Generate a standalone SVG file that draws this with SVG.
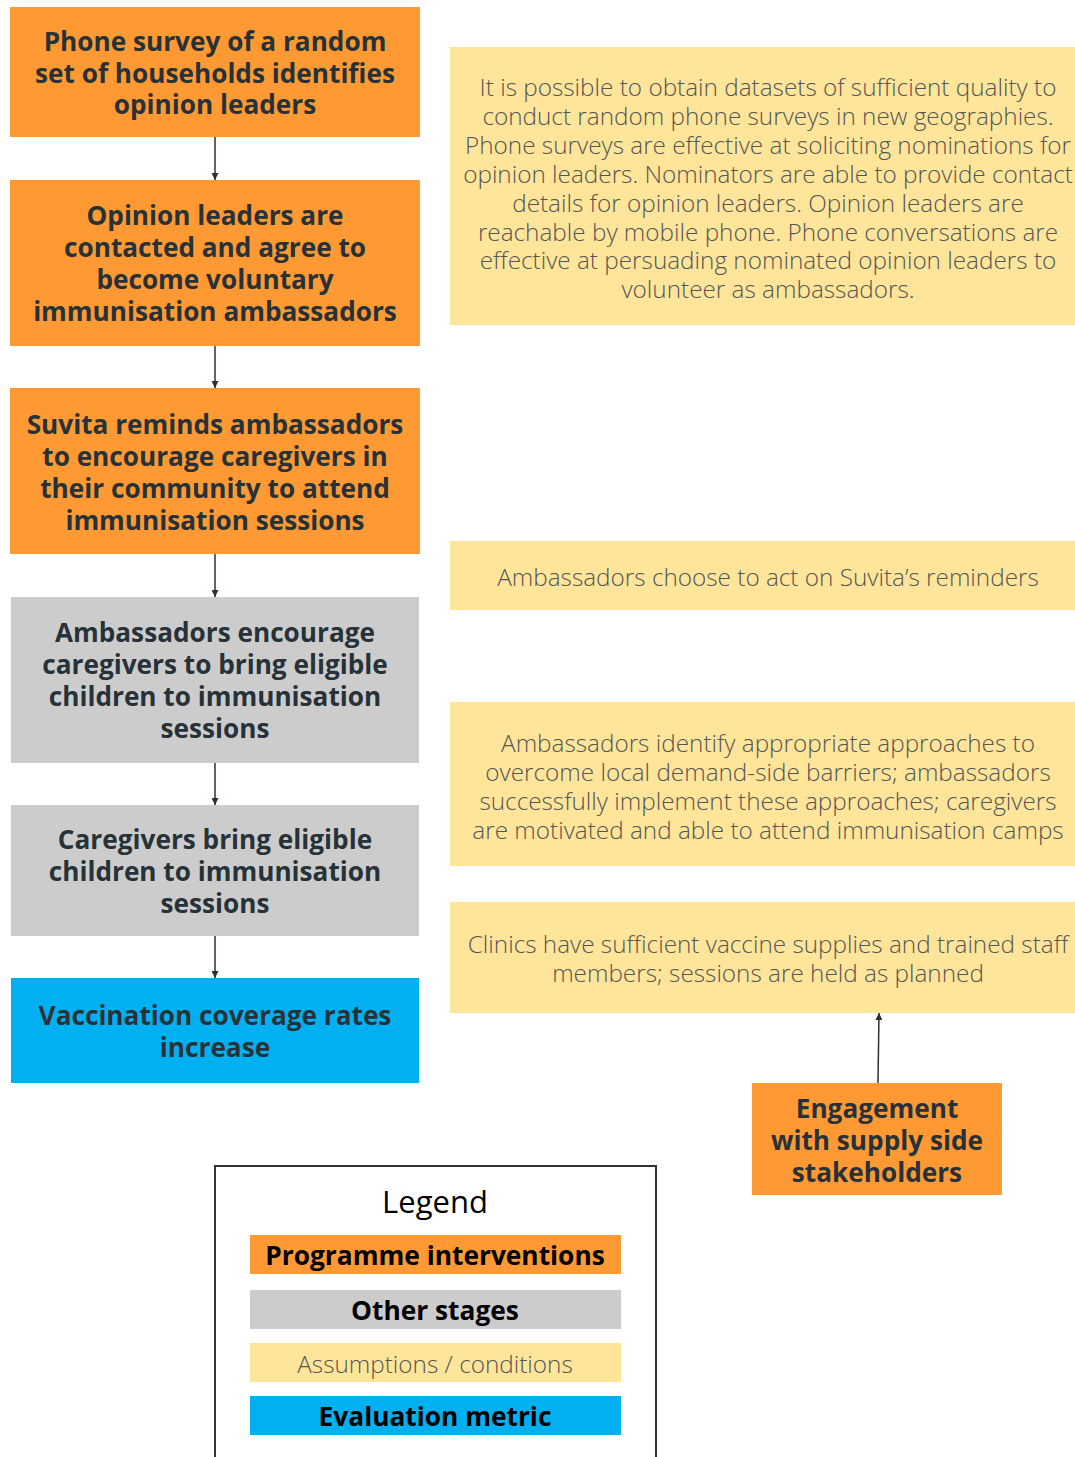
<svg xmlns="http://www.w3.org/2000/svg" width="1075" height="1457" viewBox="0 0 1075 1457">
<style>
.org{fill:#FF9933}
.gry{fill:#CCCCCC}
.blu{fill:#00B0F0}
.ylw{fill:#FFE599}
.nt{font-family:"Open Sans","Noto Sans",sans-serif;font-weight:700;font-size:26.2px;fill:#263238;text-anchor:middle;dominant-baseline:central}
.at{font-family:"Open Sans","Noto Sans",sans-serif;font-weight:300;font-size:24.3px;fill:#555;text-anchor:middle;dominant-baseline:central}
.lt{font-family:"Open Sans","Noto Sans",sans-serif;font-weight:700;font-size:26.3px;fill:#000;text-anchor:middle;dominant-baseline:central}
.edge{stroke:#263238;stroke-width:1.5;fill:none;marker-end:url(#ah)}
</style>
<defs>
<marker id="ah" viewBox="0 0 10 10" refX="10" refY="5" markerWidth="7" markerHeight="7" markerUnits="userSpaceOnUse" orient="auto"><path d="M0,0 L10,5 L0,10 z" fill="#263238"/></marker>
</defs>
<rect width="1075" height="1457" fill="#fff"/>
<g id="n1"><rect class="org" x="10" y="7" width="410" height="130"/>
<text class="nt" x="215" y="41">Phone survey of a random</text><text class="nt" x="215" y="73">set of households identifies</text><text class="nt" x="215" y="104">opinion leaders</text></g>
<g id="n2"><rect class="org" x="10" y="180" width="410" height="166"/>
<text class="nt" x="215" y="215">Opinion leaders are</text><text class="nt" x="215" y="247">contacted and agree to</text><text class="nt" x="215" y="279">become voluntary</text><text class="nt" x="215" y="311">immunisation ambassadors</text></g>
<g id="n3"><rect class="org" x="10" y="388" width="410" height="166"/>
<text class="nt" x="215" y="424">Suvita reminds ambassadors</text><text class="nt" x="215" y="456">to encourage caregivers in</text><text class="nt" x="215" y="488">their community to attend</text><text class="nt" x="215" y="520">immunisation sessions</text></g>
<g id="n4"><rect class="gry" x="11" y="597" width="408" height="166"/>
<text class="nt" x="215" y="632">Ambassadors encourage</text><text class="nt" x="215" y="664">caregivers to bring eligible</text><text class="nt" x="215" y="696">children to immunisation</text><text class="nt" x="215" y="728">sessions</text></g>
<g id="n5"><rect class="gry" x="11" y="805" width="408" height="131"/>
<text class="nt" x="215" y="839">Caregivers bring eligible</text><text class="nt" x="215" y="871">children to immunisation</text><text class="nt" x="215" y="903">sessions</text></g>
<g id="n6"><rect class="blu" x="11" y="978" width="408" height="105"/>
<text class="nt" x="215" y="1015">Vaccination coverage rates</text><text class="nt" x="215" y="1047">increase</text></g>
<g id="a1"><rect class="ylw" x="450" y="47" width="625" height="278"/>
<text class="at" x="768" y="86">It is possible to obtain datasets of sufficient quality to</text>
<text class="at" x="768" y="115">conduct random phone surveys in new geographies.</text>
<text class="at" x="768" y="144">Phone surveys are effective at soliciting nominations for</text>
<text class="at" x="768" y="173">opinion leaders. Nominators are able to provide contact</text>
<text class="at" x="768" y="202">details for opinion leaders. Opinion leaders are</text>
<text class="at" x="768" y="231">reachable by mobile phone. Phone conversations are</text>
<text class="at" x="768" y="259">effective at persuading nominated opinion leaders to</text>
<text class="at" x="768" y="288">volunteer as ambassadors.</text></g>
<g id="a2"><rect class="ylw" x="450" y="541" width="625" height="69"/>
<text class="at" x="768" y="576">Ambassadors choose to act on Suvita’s reminders</text></g>
<g id="a3"><rect class="ylw" x="450" y="702" width="625" height="164"/>
<text class="at" x="768" y="742">Ambassadors identify appropriate approaches to</text>
<text class="at" x="768" y="771">overcome local demand-side barriers; ambassadors</text>
<text class="at" x="768" y="800">successfully implement these approaches; caregivers</text>
<text class="at" x="768" y="829">are motivated and able to attend immunisation camps</text></g>
<g id="a4"><rect class="ylw" x="450" y="902" width="625" height="111"/>
<text class="at" x="768" y="943">Clinics have sufficient vaccine supplies and trained staff</text>
<text class="at" x="768" y="972">members; sessions are held as planned</text></g>
<g id="n7"><rect class="org" x="752" y="1083" width="250" height="112"/>
<text class="nt" x="877" y="1108">Engagement</text><text class="nt" x="877" y="1140">with supply side</text><text class="nt" x="877" y="1172">stakeholders</text></g>
<g id="edges">
<line class="edge" x1="215" y1="137" x2="215" y2="180"/>
<line class="edge" x1="215" y1="346" x2="215" y2="388"/>
<line class="edge" x1="215" y1="554" x2="215" y2="597"/>
<line class="edge" x1="215" y1="763" x2="215" y2="805"/>
<line class="edge" x1="215" y1="936" x2="215" y2="978"/>
<line class="edge" x1="878" y1="1083" x2="879" y2="1013"/>
</g>
<g id="legend">
<rect x="215" y="1166" width="441" height="300" fill="none" stroke="#333" stroke-width="2"/>
<text x="435" y="1201" font-family="'Open Sans','Noto Sans',sans-serif" font-size="31" fill="#000" text-anchor="middle" dominant-baseline="central">Legend</text>
<rect class="org" x="250" y="1235" width="371" height="39"/><text class="lt" x="435" y="1255">Programme interventions</text>
<rect class="gry" x="250" y="1290" width="371" height="39"/><text class="lt" x="435" y="1310">Other stages</text>
<rect class="ylw" x="250" y="1343" width="371" height="39"/><text class="at" x="435" y="1363" style="fill:#555">Assumptions / conditions</text>
<rect class="blu" x="250" y="1396" width="371" height="39"/><text class="lt" x="435" y="1416">Evaluation metric</text>
</g>
</svg>
